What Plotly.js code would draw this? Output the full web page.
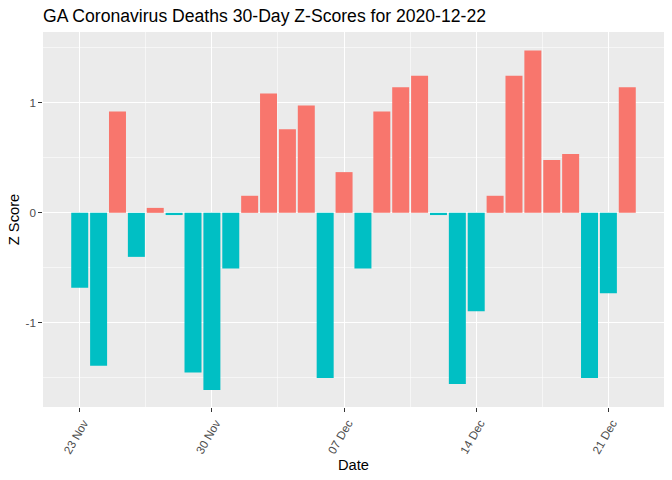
<!DOCTYPE html>
<html>
<head>
<meta charset="utf-8">
<script src="https://cdn.plot.ly/plotly-3.0.1.min.js"></script>
<style>html,body{margin:0;padding:0;background:#fff;}#chart{width:672px;height:480px;}</style>
</head>
<body>
<div id="chart"></div>
<script>
var dates = ['2020-11-23','2020-11-24','2020-11-25','2020-11-26','2020-11-27','2020-11-28','2020-11-29',
             '2020-11-30','2020-12-01','2020-12-02','2020-12-03','2020-12-04','2020-12-05','2020-12-06',
             '2020-12-07','2020-12-08','2020-12-09','2020-12-10','2020-12-11','2020-12-12','2020-12-13',
             '2020-12-14','2020-12-15','2020-12-16','2020-12-17','2020-12-18','2020-12-19','2020-12-20',
             '2020-12-21','2020-12-22'];
var zscores = [-0.68, -1.39, 0.92, -0.40, 0.045, -0.02, -1.45,
               -1.61, -0.505, 0.155, 1.085, 0.76, 0.975, -1.50,
               0.37, -0.505, 0.92, 1.14, 1.245, -0.02, -1.555,
               -0.895, 0.155, 1.245, 1.475, 0.48, 0.535, -1.50,
               -0.73, 1.14];
var yTickVals = [-1, 0, 1];
var yTickText = ['-1', '0', '1'];
var posColor = '#F8766D', negColor = '#00BFC4';
var colors = zscores.map(function(v){ return v >= 0 ? posColor : negColor; });

var DAY = 86400000;
var font = 'Liberation Sans, Arial, sans-serif';

var trace = {
  type: 'bar',
  x: dates,
  y: zscores,
  marker: {color: colors, line: {width: 0}},
  width: 0.9 * DAY,
  hoverinfo: 'x+y'
};

var layout = {
  width: 672, height: 480,
  margin: {l: 43, r: 8, t: 32, b: 73.3, pad: 0},
  paper_bgcolor: '#ffffff',
  plot_bgcolor: '#EBEBEB',
  showlegend: false,
  font: {family: font, color: '#4D4D4D'},
  title: {
    text: 'GA Coronavirus Deaths 30-Day Z-Scores for 2020-12-22',
    font: {family: font, size: 17.6, color: '#000000'},
    xref: 'container', x: 43/672, xanchor: 'left',
    yref: 'container', y: 1 - 16/480, yanchor: 'middle'
  },
  xaxis: {
    type: 'date',
    range: [new Date(Date.UTC(2020,10,23) - 1.945*DAY).toISOString(), new Date(Date.UTC(2020,11,22) + 1.945*DAY).toISOString()],
    tick0: '2020-11-23', dtick: 7*DAY,
    tickformat: '%d %b',
    tickangle: -60,
    ticklabelshift: 4,
    ticks: 'outside', ticklen: 3.7, tickwidth: 1.07, tickcolor: '#333333',
    tickfont: {family: font, size: 11.7, color: '#4D4D4D'},
    showgrid: true, gridcolor: '#ffffff', gridwidth: 1.07,
    minor: {tick0: '2020-11-26 12:00', dtick: 7*DAY, showgrid: true, gridcolor: '#ffffff', gridwidth: 0.53, ticks: ''},
    zeroline: false, showline: false,
    automargin: false,
    title: {text: 'Date', font: {family: font, size: 14.67, color: '#000000'}, standoff: 4}
  },
  yaxis: {
    range: [-1.764, 1.643],
    tickvals: yTickVals, ticktext: yTickText,
    ticks: 'outside', ticklen: 3.7, tickwidth: 1.07, tickcolor: '#333333',
    tickfont: {family: font, size: 11.7, color: '#4D4D4D'},
    showgrid: true, gridcolor: '#ffffff', gridwidth: 1.07,
    minor: {tick0: 0.5, dtick: 1, showgrid: true, gridcolor: '#ffffff', gridwidth: 0.53, ticks: ''},
    zeroline: false, showline: false,
    automargin: false,
    title: {text: 'Z Score', font: {family: font, size: 14.67, color: '#000000'}, standoff: 2}
  },
  bargap: 0.1
};

Plotly.newPlot('chart', [trace], layout, {staticPlot: true, displayModeBar: false});
</script>
</body>
</html>
